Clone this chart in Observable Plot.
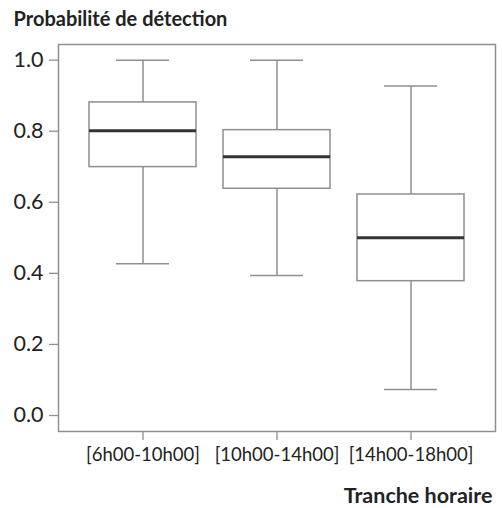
<!DOCTYPE html>
<html>
<head>
<meta charset="utf-8">
<script src="https://cdn.jsdelivr.net/npm/d3@7"></script>
<script src="https://cdn.jsdelivr.net/npm/@observablehq/plot@0.6"></script>
<style>
  html, body { margin: 0; padding: 0; background: #fff; }
  #chart svg { display: block; }
</style>
</head>
<body>
<div id="chart"></div>
<script>
const categories = ["[6h00-10h00]", "[10h00-14h00]", "[14h00-18h00]"];
const whiskerHigh = [1.0, 1.0, 0.927];
const q3 = [0.881, 0.803, 0.622];
const median = [0.801, 0.728, 0.500];
const q1 = [0.699, 0.638, 0.378];
const whiskerLow = [0.427, 0.394, 0.073];
const yTicks = [0, 0.2, 0.4, 0.6, 0.8, 1.0];
const yTitle = "Probabilité de détection";
const xTitle = "Tranche horaire";

const data = categories.map((c, i) => ({
  cat: c, hi: whiskerHigh[i], q3: q3[i], med: median[i], q1: q1[i], lo: whiskerLow[i]
}));

const gray = "#8f8f8f";
const ink = "#222";

const chart = Plot.plot({
  width: 502,
  height: 508,
  marginLeft: 58,
  marginRight: 7,
  marginTop: 44,
  marginBottom: 77,
  style: { fontFamily: "Lato, sans-serif", color: ink, background: "#fff" },
  x: { type: "band", domain: categories, paddingInner: 0.2, paddingOuter: 0.22, label: null },
  y: { domain: [-0.045, 1.044], label: null },
  marks: [
    Plot.frame({ stroke: gray, strokeWidth: 1.5 }),
    Plot.axisY({ ticks: yTicks, tickFormat: ".1f", tickSize: 9, tickPadding: 6, fontSize: 21.5, stroke: gray, strokeWidth: 1.3, label: null }),
    Plot.axisX({ tickSize: 9, tickPadding: 7, fontSize: 18.5, stroke: gray, strokeWidth: 1.3, label: null }),
    Plot.ruleX(data, { x: "cat", y1: "lo", y2: "q1", stroke: gray, strokeWidth: 1.5 }),
    Plot.ruleX(data, { x: "cat", y1: "q3", y2: "hi", stroke: gray, strokeWidth: 1.5 }),
    Plot.tickY(data, { x: "cat", y: "hi", stroke: gray, strokeWidth: 1.5, insetLeft: 27, insetRight: 27 }),
    Plot.tickY(data, { x: "cat", y: "lo", stroke: gray, strokeWidth: 1.5, insetLeft: 27, insetRight: 27 }),
    Plot.barY(data, { x: "cat", y1: "q1", y2: "q3", fill: "#fff", stroke: gray, strokeWidth: 1.5 }),
    Plot.tickY(data, { x: "cat", y: "med", stroke: "#333", strokeWidth: 3 }),
    Plot.text([yTitle], { frameAnchor: "top-left", dx: -45, dy: -19, textAnchor: "start", lineAnchor: "bottom", fontSize: 20, fontWeight: "bold", fill: ink }),
    Plot.text([xTitle], { frameAnchor: "bottom-right", dx: -3, dy: 71, textAnchor: "end", lineAnchor: "bottom", fontSize: 21.5, fontWeight: "bold", fill: ink })
  ]
});
document.getElementById("chart").appendChild(chart);
</script>
</body>
</html>
